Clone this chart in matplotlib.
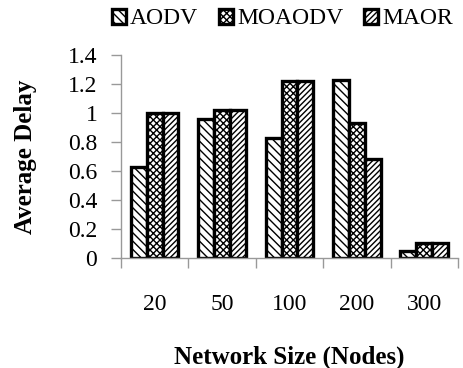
"""Average delay vs network size, grouped hatched bars."""

import matplotlib

matplotlib.use("Agg")
import matplotlib.pyplot as plt
import numpy as np

sizes = ["20", "50", "100", "200", "300"]
aodv = [0.63, 0.96, 0.83, 1.23, 0.05]
moaodv = [1.00, 1.02, 1.22, 0.93, 0.10]
maor = [1.00, 1.02, 1.22, 0.68, 0.10]

plt.rcParams["font.family"] = ["Liberation Serif", "DejaVu Serif"]
plt.rcParams["hatch.linewidth"] = 1.0

fig = plt.figure(figsize=(4.63, 3.68), dpi=100)
ax = fig.add_axes([0.2613, 0.299, 0.7277, 0.5515])

x = np.arange(len(sizes))
w = 0.235
series = [("AODV", aodv, "\\\\\\\\"), ("MOAODV", moaodv, "xxxxx"), ("MAOR", maor, "//////")]
for i, (name, vals, hatch) in enumerate(series):
    ax.bar(x + (i - 1) * w, vals, w, label=name, color="white",
           edgecolor="black", linewidth=2.4, hatch=hatch)

ax.set_xlim(-0.5, len(sizes) - 0.5)
ax.set_ylim(0, 1.4)
ax.set_yticks(np.arange(0, 1.41, 0.2))
ax.set_yticklabels(["0", "0.2", "0.4", "0.6", "0.8", "1", "1.2", "1.4"])

# category boundaries carry the tick marks, labels sit at the centres
ax.set_xticks(np.arange(-0.5, len(sizes), 1.0))
ax.set_xticklabels([])
ax.set_xticks(x, minor=True)
ax.set_xticklabels(sizes, minor=True)
ax.tick_params(axis="x", which="major", length=7, color="#999999", width=1)
ax.tick_params(axis="x", which="minor", length=0, pad=26, labelsize=17)
ax.tick_params(axis="y", length=7, color="#999999", width=1, labelsize=17, pad=10)

for side in ("top", "right"):
    ax.spines[side].set_visible(False)
for side in ("left", "bottom"):
    ax.spines[side].set_color("#999999")
    ax.spines[side].set_linewidth(1)

ax.set_ylabel("Average Delay", fontsize=18, fontweight="bold", labelpad=22)
ax.set_xlabel("Network Size (Nodes)", fontsize=18, fontweight="bold", labelpad=22)

fig.legend(loc="upper center", bbox_to_anchor=(0.61, 1.035), ncol=3, frameon=False,
           fontsize=17, handlelength=0.6, handleheight=0.6, handletextpad=0.15,
           columnspacing=0.9)

fig.savefig("out.png", dpi=100)
